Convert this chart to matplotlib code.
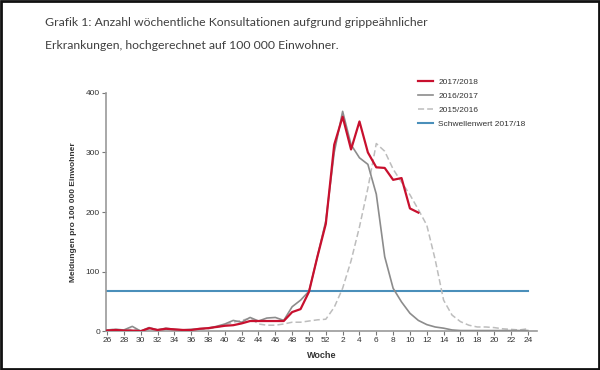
import numpy as np
import matplotlib.pyplot as plt
from matplotlib.patches import Rectangle

# Wochen: 26..52, dann 1..24
wochen = list(range(26, 53)) + list(range(1, 25))
tick_wochen = list(range(26, 53, 2)) + list(range(2, 25, 2))

saison_2017_18 = [1, 2, 1, 1, 0, 5, 2, 4, 3, 2, 2, 4, 5, 7, 9, 10, 13, 17, 17, 17,
                  17, 17, 32, 37, 66, 125, 180,
                  313, 360, 305, 352, 300, 275, 274, 254, 257, 206, 199]
saison_2016_17 = [2, 3, 2, 8, 0, 6, 2, 5, 3, 2, 3, 4, 5, 8, 12, 18, 15, 23, 17, 22,
                  23, 18, 41, 52, 67, 125, 185,
                  300, 369, 313, 291, 280, 230, 125, 72, 49, 30, 18, 11, 7, 5, 2,
                  1, 1, 1, 1, 1, 1, 1, 1, 1]
saison_2015_16 = [2, 3, 2, 3, 1, 3, 2, 3, 2, 2, 2, 3, 4, 6, 10, 15, 18, 22, 12, 10,
                  10, 12, 15, 15, 17, 19, 20,
                  40, 72, 118, 175, 240, 315, 302, 272, 250, 229, 204, 178, 120, 52, 27,
                  16, 10, 7, 7, 6, 4, 3, 2, 4]
schwellenwert = 67

x = np.arange(len(wochen))
tick_pos = [wochen.index(w) for w in tick_wochen]

plt.rcParams['font.family'] = ['Liberation Sans', 'DejaVu Sans']

fig = plt.figure(figsize=(6, 3.7), dpi=100)
ax = fig.add_axes([0.177, 0.105, 0.718, 0.644])

ax.plot(x, saison_2015_16, color='#bdbdbd', lw=1.1, ls=(0, (4, 2)), label='2015/2016', zorder=2)
ax.plot(x, saison_2016_17, color='#8c8c8c', lw=1.2, label='2016/2017', zorder=3)
ax.axhline(schwellenwert, xmin=0.002, xmax=0.98, color='#4a8fba', lw=1.5,
           label='Schwellenwert 2017/18', zorder=1)
ax.plot(x[:len(saison_2017_18)], saison_2017_18, color='#c8102e', lw=1.6,
        label='2017/2018', zorder=4)

ax.set_xlim(-0.1, 51.1)
ax.set_ylim(0, 400)
ax.set_xticks(tick_pos)
ax.set_xticklabels([str(w) for w in tick_wochen])
ax.set_yticks([0, 100, 200, 300, 400])
ax.tick_params(labelsize=6, colors='#333333', length=3, width=0.8, pad=1.5)
ax.tick_params(axis='x', color='#777777')
ax.tick_params(axis='y', color='#777777')
for s in ['top', 'right']:
    ax.spines[s].set_visible(False)
for s in ['left', 'bottom']:
    ax.spines[s].set_color('#9a9a9a')
    ax.spines[s].set_linewidth(1.2)

ax.set_xlabel('Woche', fontsize=6.5, fontweight='bold', color='#333333', labelpad=5)
ax.set_ylabel('Meldungen pro 100 000 Einwohner', fontsize=6, fontweight='bold',
              color='#333333', labelpad=6)

handles, labels = ax.get_legend_handles_labels()
order = [3, 1, 0, 2]
leg = ax.legend([handles[i] for i in order], [labels[i] for i in order],
                loc='upper left', bbox_to_anchor=(0.707, 1.095), frameon=False,
                fontsize=6, handlelength=1.8, labelspacing=0.75, handletextpad=0.6)
for t in leg.get_texts():
    t.set_color('#333333')

# Titel
titel_font = ['Lato', 'DejaVu Sans']
fig.text(0.075, 0.94, 'Grafik 1: Anzahl wöchentliche Konsultationen aufgrund grippeähnlicher',
         fontsize=8.8, family=titel_font, color='#404040', va='center')
fig.text(0.075, 0.878, 'Erkrankungen, hochgerechnet auf 100 000 Einwohner.',
         fontsize=8.8, family=titel_font, color='#404040', va='center')

fig.patches.append(Rectangle((0.002, 0.004), 0.996, 0.993, transform=fig.transFigure,
                             fill=False, edgecolor='#111111', lw=2))

fig.savefig('out.png', dpi=100)
